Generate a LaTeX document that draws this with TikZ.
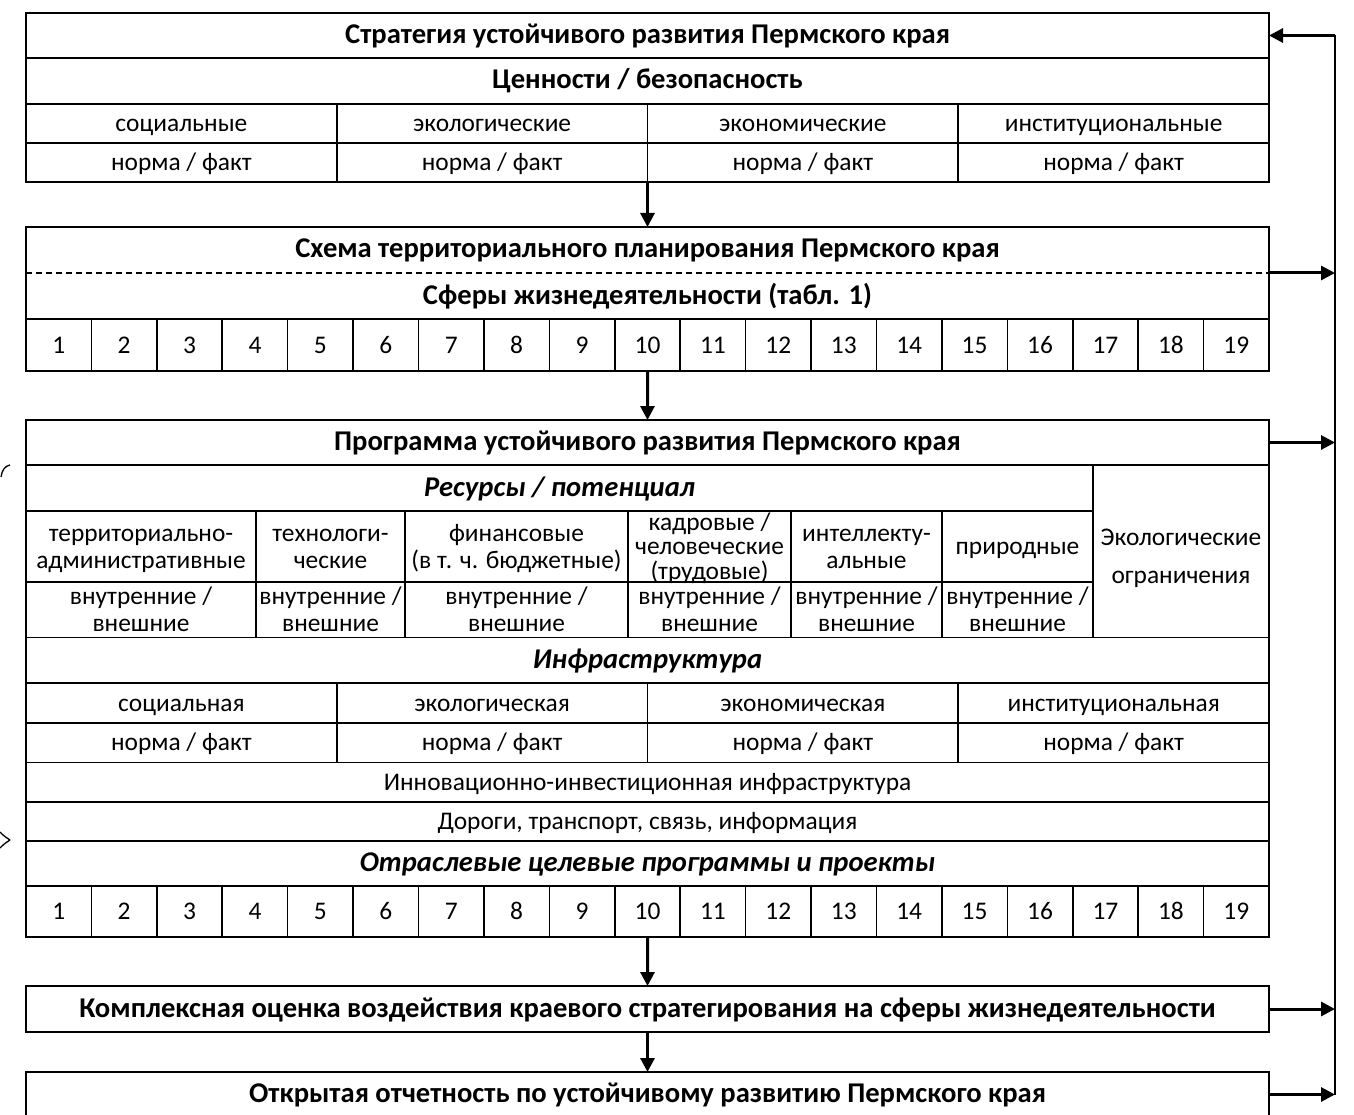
\documentclass[tikz,border=0pt]{standalone}
\usepackage{fontspec}
\setmainfont{Carlito}
\usetikzlibrary{arrows.meta}

\newcommand\fsz{\fontsize{25.4}{25.5}\selectfont}
\newcommand\fbd{\fontsize{28.6}{30}\selectfont\bfseries}
% line strut: 21pt above, 5pt below the baseline
\newcommand\cst{\rule[-5pt]{0pt}{26pt}}
% #1 extra style, #2 name, #3 x1, #4 y1, #5 x2, #6 y2, #7 text
\newcommand\cellnode[7][]{%
  \node[cell,#1,minimum width={(#5)-(#3)},minimum height={(#6)-(#4)}]
    (#2) at ({((#3)+(#5))/2},{((#4)+(#6))/2}) {\cst#7\cst};}

\begin{document}
\begin{tikzpicture}[x=1pt,y=-1pt,
  cell/.style={draw,line width=1.6pt,inner sep=0pt,outer sep=0pt,align=center,font=\fsz},
  hd/.style={font=\fbd},
  hdit/.style={font=\fbd\itshape},
  txt/.style={inner sep=0pt,align=center,font=\fbd},
  tight/.style={inner sep=0pt,align=center,font=\fontsize{25.4}{24.5}\selectfont},
  arr/.style={line width=3pt,-{Triangle[length=14pt,width=14pt]}},
  vline/.style={line width=1.6pt},
  brace/.style={line width=1.3pt}]
\useasboundingbox (0,0) rectangle (1354,1115);

% ---------- Strategy block ----------
\cellnode[hd]{sT}{26}{13}{1269}{58}{Стратегия устойчивого развития Пермского края}
\cellnode[hd]{sV}{26}{58}{1269}{104}{Ценности / безопасность}
\cellnode{sC1}{26}{104}{336.75}{143}{социальные}
\cellnode{sC2}{336.75}{104}{647.5}{143}{экологические}
\cellnode{sC3}{647.5}{104}{958.25}{143}{экономические}
\cellnode{sC4}{958.25}{104}{1269}{143}{институциональные}
\cellnode{sN1}{26}{143}{336.75}{182}{норма / факт}
\cellnode{sN2}{336.75}{143}{647.5}{182}{норма / факт}
\cellnode{sN3}{647.5}{143}{958.25}{182}{норма / факт}
\cellnode{sN4}{958.25}{143}{1269}{182}{норма / факт}

% ---------- Territorial planning block ----------
\cellnode{sch}{26}{227}{1269}{319}{}
\draw[line width=1.6pt,dash pattern=on 6pt off 4pt] (sch.west) -- (sch.east);
\node[txt] (schT) at (647.5,250) {\cst Схема территориального планирования Пермского края\cst};
\node[txt] (sfT) at (647.5,296) {\cst Сферы жизнедеятельности (табл. 1)\cst};
\foreach \i in {1,...,19}{
  \cellnode{sf\i}{26+(\i-1)*65.421}{319}{26+\i*65.421}{371}{\i}
}

% ---------- Programme block ----------
\cellnode[hd]{pT}{26}{420}{1269}{465}{Программа устойчивого развития Пермского края}
\cellnode[hdit]{pR}{26}{465}{1093}{511}{Ресурсы / потенциал}
\cellnode{pE}{1093}{465}{1269}{637.5}{\rule{0pt}{31pt}Экологические\\[11.5pt]ограничения}
\cellnode{r1}{26}{511}{256}{582}{территориально-\\административные}
\cellnode{r2}{256}{511}{405}{582}{технологи-\\ческие}
\cellnode{r3}{405}{511}{628}{582}{финансовые\\(в т. ч. бюджетные)}
\cellnode{r4}{628}{511}{791}{582}{}
\node[tight] (r4t) at (r4) {\cst кадровые /\\человеческие\\(трудовые)\cst};
\cellnode{r5}{791}{511}{942}{582}{интеллекту-\\альные}
\cellnode{r6}{942}{511}{1093}{582}{природные}
\cellnode{v1}{26}{582}{256}{637.5}{внутренние /\\внешние}
\cellnode{v2}{256}{582}{405}{637.5}{внутренние /\\внешние}
\cellnode{v3}{405}{582}{628}{637.5}{внутренние /\\внешние}
\cellnode{v4}{628}{582}{791}{637.5}{внутренние /\\внешние}
\cellnode{v5}{791}{582}{942}{637.5}{внутренние /\\внешние}
\cellnode{v6}{942}{582}{1093}{637.5}{внутренние /\\внешние}
\cellnode[hdit]{pI}{26}{637.5}{1269}{683}{Инфраструктура}
\cellnode{i1}{26}{683}{336.75}{723}{социальная}
\cellnode{i2}{336.75}{683}{647.5}{723}{экологическая}
\cellnode{i3}{647.5}{683}{958.25}{723}{экономическая}
\cellnode{i4}{958.25}{683}{1269}{723}{институциональная}
\cellnode{in1}{26}{723}{336.75}{762.5}{норма / факт}
\cellnode{in2}{336.75}{723}{647.5}{762.5}{норма / факт}
\cellnode{in3}{647.5}{723}{958.25}{762.5}{норма / факт}
\cellnode{in4}{958.25}{723}{1269}{762.5}{норма / факт}
\cellnode{pInv}{26}{762.5}{1269}{802}{Инновационно-инвестиционная инфраструктура}
\cellnode{pRd}{26}{802}{1269}{841}{Дороги, транспорт, связь, информация}
\cellnode[hdit]{pO}{26}{841}{1269}{886}{Отраслевые целевые программы и проекты}
\foreach \i in {1,...,19}{
  \cellnode{op\i}{26+(\i-1)*65.421}{886}{26+\i*65.421}{937}{\i}
}

% ---------- Assessment and reporting ----------
\cellnode[hd]{kompl}{26}{986}{1269}{1032}{Комплексная оценка воздействия краевого стратегирования на сферы жизнедеятельности}
\cellnode[hd]{otkr}{26}{1072}{1269}{1117}{Открытая отчетность по устойчивому развитию Пермского края}

% ---------- Flow arrows ----------
\draw[arr] (sN2.south east) -- (sch.north);
\draw[arr] (sf10.south) -- (pT.north);
\draw[arr] (op10.south) -- (kompl.north);
\draw[arr] (kompl.south) -- (otkr.north);

% feedback line on the right
\coordinate (rx) at (1335,0);
\draw[vline] (sT.east -| rx) -- (otkr.east -| rx);
\draw[arr] (sT.east -| rx) -- (sT.east);
\draw[arr] (sch.east) -- (sch.east -| rx);
\draw[arr] (pT.east) -- (pT.east -| rx);
\draw[arr] (kompl.east) -- (kompl.east -| rx);
\draw[arr] (otkr.east) -- (otkr.east -| rx);

% brace ends at the left edge
\draw[brace] (10,465) .. controls (5,466) and (2,470) .. (1,477);
\draw[brace] (0,832) .. controls (4,836) .. (10,840);
\draw[brace] (10,840) .. controls (4,844) .. (0,848);
\end{tikzpicture}
\end{document}
